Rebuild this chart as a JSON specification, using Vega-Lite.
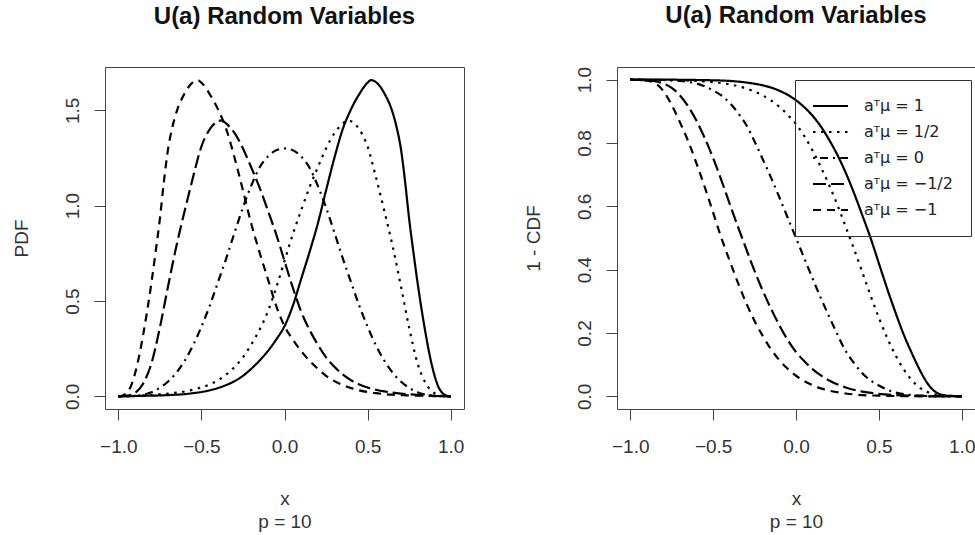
{
 "$schema": "https://vega.github.io/schema/vega-lite/v6.json",
 "background": "white",
 "padding": {"left": 11, "top": 3, "right": 0, "bottom": 0},
 "spacing": 153,
 "bounds": "flush",
 "resolve": {"scale": {"strokeDash": "independent"}, "legend": {"strokeDash": "independent"}},
 "config": {
  "font": "Liberation Sans",
  "view": {"stroke": "#444", "strokeWidth": 1},
  "axis": {"domain": false, "grid": false, "ticks": true, "tickSize": 11, "tickColor": "#444", "tickWidth": 1,
           "labelFont": "Liberation Sans", "labelFontSize": 19, "labelColor": "#333",
           "titleFont": "Liberation Sans", "titleFontSize": 19, "titleFontWeight": "normal", "titleColor": "#333"},
  "axisX": {"labelPadding": 17, "titlePadding": 33, "titleLineHeight": 23},
  "axisY": {"labelAngle": -90, "labelAlign": "center", "labelBaseline": "bottom", "labelPadding": 12, "titlePadding": 32},
  "title": {"fontSize": 24, "fontWeight": "bold", "font": "Liberation Sans", "color": "#111", "anchor": "middle", "frame": "group", "offset": 38},
  "line": {"strokeWidth": 2.2, "color": "black", "interpolate": "monotone"},
  "legend": {"orient": "none", "legendX": 178, "legendY": 13, "padding": 18, "strokeColor": "#333",
             "symbolType": "M-3,0H3", "symbolSize": 136, "symbolStrokeWidth": 2.2, "symbolStrokeColor": "black",
             "symbolFillColor": "transparent", "symbolOffset": 9.5, "labelOffset": 25.5, "rowPadding": 10,
             "labelFont": "DejaVu Sans", "labelFontSize": 16, "labelColor": "#222"}
 },
 "datasets": {
  "pdf": [
   {"m":"1","x":-1,"y":0},{"m":"1","x":-0.95,"y":0.001},{"m":"1","x":-0.9,"y":0.002},{"m":"1","x":-0.85,"y":0.003},{"m":"1","x":-0.8,"y":0.004},{"m":"1","x":-0.75,"y":0.005},{"m":"1","x":-0.7,"y":0.007},{"m":"1","x":-0.65,"y":0.009},{"m":"1","x":-0.6,"y":0.012},{"m":"1","x":-0.55,"y":0.017},{"m":"1","x":-0.5,"y":0.023},{"m":"1","x":-0.45,"y":0.032},{"m":"1","x":-0.4,"y":0.044},{"m":"1","x":-0.35,"y":0.06},{"m":"1","x":-0.3,"y":0.08},{"m":"1","x":-0.25,"y":0.108},{"m":"1","x":-0.2,"y":0.145},{"m":"1","x":-0.15,"y":0.188},{"m":"1","x":-0.1,"y":0.238},{"m":"1","x":-0.05,"y":0.298},{"m":"1","x":0,"y":0.368},{"m":"1","x":0.05,"y":0.475},{"m":"1","x":0.1,"y":0.615},{"m":"1","x":0.15,"y":0.755},{"m":"1","x":0.2,"y":0.905},{"m":"1","x":0.25,"y":1.08},{"m":"1","x":0.3,"y":1.25},{"m":"1","x":0.35,"y":1.4},{"m":"1","x":0.4,"y":1.505},{"m":"1","x":0.45,"y":1.585},{"m":"1","x":0.5,"y":1.645},{"m":"1","x":0.52,"y":1.658},{"m":"1","x":0.55,"y":1.648},{"m":"1","x":0.6,"y":1.59},{"m":"1","x":0.65,"y":1.49},{"m":"1","x":0.675,"y":1.41},{"m":"1","x":0.7,"y":1.3},{"m":"1","x":0.725,"y":1.13},{"m":"1","x":0.75,"y":0.93},{"m":"1","x":0.775,"y":0.76},{"m":"1","x":0.8,"y":0.6},{"m":"1","x":0.825,"y":0.455},{"m":"1","x":0.85,"y":0.325},{"m":"1","x":0.875,"y":0.21},{"m":"1","x":0.9,"y":0.118},{"m":"1","x":0.925,"y":0.052},{"m":"1","x":0.95,"y":0.018},{"m":"1","x":0.975,"y":0.004},{"m":"1","x":1,"y":0},
   {"m":"−1","x":1,"y":0},{"m":"−1","x":0.95,"y":0.001},{"m":"−1","x":0.9,"y":0.002},{"m":"−1","x":0.85,"y":0.003},{"m":"−1","x":0.8,"y":0.004},{"m":"−1","x":0.75,"y":0.005},{"m":"−1","x":0.7,"y":0.007},{"m":"−1","x":0.65,"y":0.009},{"m":"−1","x":0.6,"y":0.012},{"m":"−1","x":0.55,"y":0.017},{"m":"−1","x":0.5,"y":0.023},{"m":"−1","x":0.45,"y":0.032},{"m":"−1","x":0.4,"y":0.044},{"m":"−1","x":0.35,"y":0.06},{"m":"−1","x":0.3,"y":0.08},{"m":"−1","x":0.25,"y":0.108},{"m":"−1","x":0.2,"y":0.145},{"m":"−1","x":0.15,"y":0.188},{"m":"−1","x":0.1,"y":0.238},{"m":"−1","x":0.05,"y":0.298},{"m":"−1","x":0,"y":0.368},{"m":"−1","x":-0.05,"y":0.475},{"m":"−1","x":-0.1,"y":0.615},{"m":"−1","x":-0.15,"y":0.755},{"m":"−1","x":-0.2,"y":0.905},{"m":"−1","x":-0.25,"y":1.08},{"m":"−1","x":-0.3,"y":1.25},{"m":"−1","x":-0.35,"y":1.4},{"m":"−1","x":-0.4,"y":1.505},{"m":"−1","x":-0.45,"y":1.585},{"m":"−1","x":-0.5,"y":1.645},{"m":"−1","x":-0.52,"y":1.658},{"m":"−1","x":-0.55,"y":1.648},{"m":"−1","x":-0.6,"y":1.59},{"m":"−1","x":-0.65,"y":1.49},{"m":"−1","x":-0.675,"y":1.41},{"m":"−1","x":-0.7,"y":1.3},{"m":"−1","x":-0.725,"y":1.13},{"m":"−1","x":-0.75,"y":0.93},{"m":"−1","x":-0.775,"y":0.76},{"m":"−1","x":-0.8,"y":0.6},{"m":"−1","x":-0.825,"y":0.455},{"m":"−1","x":-0.85,"y":0.325},{"m":"−1","x":-0.875,"y":0.21},{"m":"−1","x":-0.9,"y":0.118},{"m":"−1","x":-0.925,"y":0.052},{"m":"−1","x":-0.95,"y":0.018},{"m":"−1","x":-0.975,"y":0.004},{"m":"−1","x":-1,"y":0},
   {"m":"1/2","x":-1,"y":0},{"m":"1/2","x":-0.95,"y":0.001},{"m":"1/2","x":-0.9,"y":0.003},{"m":"1/2","x":-0.85,"y":0.005},{"m":"1/2","x":-0.8,"y":0.008},{"m":"1/2","x":-0.75,"y":0.011},{"m":"1/2","x":-0.7,"y":0.015},{"m":"1/2","x":-0.65,"y":0.02},{"m":"1/2","x":-0.6,"y":0.026},{"m":"1/2","x":-0.55,"y":0.035},{"m":"1/2","x":-0.5,"y":0.047},{"m":"1/2","x":-0.45,"y":0.063},{"m":"1/2","x":-0.4,"y":0.085},{"m":"1/2","x":-0.35,"y":0.115},{"m":"1/2","x":-0.3,"y":0.155},{"m":"1/2","x":-0.25,"y":0.205},{"m":"1/2","x":-0.2,"y":0.272},{"m":"1/2","x":-0.15,"y":0.35},{"m":"1/2","x":-0.1,"y":0.445},{"m":"1/2","x":-0.05,"y":0.57},{"m":"1/2","x":0,"y":0.71},{"m":"1/2","x":0.05,"y":0.85},{"m":"1/2","x":0.1,"y":0.975},{"m":"1/2","x":0.15,"y":1.095},{"m":"1/2","x":0.2,"y":1.2},{"m":"1/2","x":0.25,"y":1.3},{"m":"1/2","x":0.3,"y":1.38},{"m":"1/2","x":0.35,"y":1.43},{"m":"1/2","x":0.38,"y":1.447},{"m":"1/2","x":0.4,"y":1.443},{"m":"1/2","x":0.45,"y":1.4},{"m":"1/2","x":0.5,"y":1.31},{"m":"1/2","x":0.55,"y":1.15},{"m":"1/2","x":0.6,"y":0.975},{"m":"1/2","x":0.65,"y":0.79},{"m":"1/2","x":0.7,"y":0.58},{"m":"1/2","x":0.75,"y":0.36},{"m":"1/2","x":0.8,"y":0.175},{"m":"1/2","x":0.85,"y":0.068},{"m":"1/2","x":0.9,"y":0.018},{"m":"1/2","x":0.95,"y":0.003},{"m":"1/2","x":1,"y":0},
   {"m":"−1/2","x":1,"y":0},{"m":"−1/2","x":0.95,"y":0.001},{"m":"−1/2","x":0.9,"y":0.003},{"m":"−1/2","x":0.85,"y":0.005},{"m":"−1/2","x":0.8,"y":0.008},{"m":"−1/2","x":0.75,"y":0.011},{"m":"−1/2","x":0.7,"y":0.015},{"m":"−1/2","x":0.65,"y":0.02},{"m":"−1/2","x":0.6,"y":0.026},{"m":"−1/2","x":0.55,"y":0.035},{"m":"−1/2","x":0.5,"y":0.047},{"m":"−1/2","x":0.45,"y":0.063},{"m":"−1/2","x":0.4,"y":0.085},{"m":"−1/2","x":0.35,"y":0.115},{"m":"−1/2","x":0.3,"y":0.155},{"m":"−1/2","x":0.25,"y":0.205},{"m":"−1/2","x":0.2,"y":0.272},{"m":"−1/2","x":0.15,"y":0.35},{"m":"−1/2","x":0.1,"y":0.445},{"m":"−1/2","x":0.05,"y":0.57},{"m":"−1/2","x":0,"y":0.71},{"m":"−1/2","x":-0.05,"y":0.85},{"m":"−1/2","x":-0.1,"y":0.975},{"m":"−1/2","x":-0.15,"y":1.095},{"m":"−1/2","x":-0.2,"y":1.2},{"m":"−1/2","x":-0.25,"y":1.3},{"m":"−1/2","x":-0.3,"y":1.38},{"m":"−1/2","x":-0.35,"y":1.43},{"m":"−1/2","x":-0.38,"y":1.447},{"m":"−1/2","x":-0.4,"y":1.443},{"m":"−1/2","x":-0.45,"y":1.4},{"m":"−1/2","x":-0.5,"y":1.31},{"m":"−1/2","x":-0.55,"y":1.15},{"m":"−1/2","x":-0.6,"y":0.975},{"m":"−1/2","x":-0.65,"y":0.79},{"m":"−1/2","x":-0.7,"y":0.58},{"m":"−1/2","x":-0.75,"y":0.36},{"m":"−1/2","x":-0.8,"y":0.175},{"m":"−1/2","x":-0.85,"y":0.068},{"m":"−1/2","x":-0.9,"y":0.018},{"m":"−1/2","x":-0.95,"y":0.003},{"m":"−1/2","x":-1,"y":0},
   {"m":"0","x":-1,"y":0},{"m":"0","x":-0.95,"y":0.001},{"m":"0","x":-0.9,"y":0.003},{"m":"0","x":-0.85,"y":0.009},{"m":"0","x":-0.8,"y":0.022},{"m":"0","x":-0.75,"y":0.045},{"m":"0","x":-0.7,"y":0.078},{"m":"0","x":-0.65,"y":0.125},{"m":"0","x":-0.6,"y":0.188},{"m":"0","x":-0.55,"y":0.268},{"m":"0","x":-0.5,"y":0.365},{"m":"0","x":-0.45,"y":0.475},{"m":"0","x":-0.4,"y":0.6},{"m":"0","x":-0.35,"y":0.725},{"m":"0","x":-0.3,"y":0.86},{"m":"0","x":-0.25,"y":0.99},{"m":"0","x":-0.2,"y":1.105},{"m":"0","x":-0.15,"y":1.2},{"m":"0","x":-0.1,"y":1.258},{"m":"0","x":-0.05,"y":1.29},{"m":"0","x":0,"y":1.3},{"m":"0","x":0.05,"y":1.29},{"m":"0","x":0.1,"y":1.258},{"m":"0","x":0.15,"y":1.2},{"m":"0","x":0.2,"y":1.105},{"m":"0","x":0.25,"y":0.99},{"m":"0","x":0.3,"y":0.86},{"m":"0","x":0.35,"y":0.725},{"m":"0","x":0.4,"y":0.6},{"m":"0","x":0.45,"y":0.475},{"m":"0","x":0.5,"y":0.365},{"m":"0","x":0.55,"y":0.268},{"m":"0","x":0.6,"y":0.188},{"m":"0","x":0.65,"y":0.125},{"m":"0","x":0.7,"y":0.078},{"m":"0","x":0.75,"y":0.045},{"m":"0","x":0.8,"y":0.022},{"m":"0","x":0.85,"y":0.009},{"m":"0","x":0.9,"y":0.003},{"m":"0","x":0.95,"y":0.001},{"m":"0","x":1,"y":0}
  ],
  "cdf": [
   {"m":"1","x":-1,"y":1},{"m":"1","x":-0.8,"y":1},{"m":"1","x":-0.6,"y":0.999},{"m":"1","x":-0.5,"y":0.998},{"m":"1","x":-0.4,"y":0.996},{"m":"1","x":-0.3,"y":0.991},{"m":"1","x":-0.2,"y":0.982},{"m":"1","x":-0.15,"y":0.975},{"m":"1","x":-0.1,"y":0.965},{"m":"1","x":-0.05,"y":0.952},{"m":"1","x":0,"y":0.935},{"m":"1","x":0.05,"y":0.913},{"m":"1","x":0.1,"y":0.886},{"m":"1","x":0.15,"y":0.852},{"m":"1","x":0.2,"y":0.81},{"m":"1","x":0.25,"y":0.762},{"m":"1","x":0.3,"y":0.706},{"m":"1","x":0.35,"y":0.642},{"m":"1","x":0.4,"y":0.572},{"m":"1","x":0.45,"y":0.5},{"m":"1","x":0.5,"y":0.42},{"m":"1","x":0.55,"y":0.34},{"m":"1","x":0.6,"y":0.265},{"m":"1","x":0.65,"y":0.195},{"m":"1","x":0.7,"y":0.135},{"m":"1","x":0.75,"y":0.08},{"m":"1","x":0.8,"y":0.036},{"m":"1","x":0.85,"y":0.011},{"m":"1","x":0.9,"y":0.003},{"m":"1","x":0.95,"y":0.001},{"m":"1","x":1,"y":0},
   {"m":"−1","x":-1,"y":1},{"m":"−1","x":-0.95,"y":0.999},{"m":"−1","x":-0.9,"y":0.997},{"m":"−1","x":-0.85,"y":0.989},{"m":"−1","x":-0.8,"y":0.964},{"m":"−1","x":-0.75,"y":0.92},{"m":"−1","x":-0.7,"y":0.865},{"m":"−1","x":-0.65,"y":0.805},{"m":"−1","x":-0.6,"y":0.735},{"m":"−1","x":-0.55,"y":0.66},{"m":"−1","x":-0.5,"y":0.58},{"m":"−1","x":-0.45,"y":0.5},{"m":"−1","x":-0.4,"y":0.428},{"m":"−1","x":-0.35,"y":0.358},{"m":"−1","x":-0.3,"y":0.294},{"m":"−1","x":-0.25,"y":0.238},{"m":"−1","x":-0.2,"y":0.19},{"m":"−1","x":-0.15,"y":0.148},{"m":"−1","x":-0.1,"y":0.114},{"m":"−1","x":-0.05,"y":0.087},{"m":"−1","x":0,"y":0.065},{"m":"−1","x":0.05,"y":0.048},{"m":"−1","x":0.1,"y":0.035},{"m":"−1","x":0.15,"y":0.025},{"m":"−1","x":0.2,"y":0.018},{"m":"−1","x":0.3,"y":0.009},{"m":"−1","x":0.4,"y":0.004},{"m":"−1","x":0.5,"y":0.002},{"m":"−1","x":0.6,"y":0.001},{"m":"−1","x":0.8,"y":0},{"m":"−1","x":1,"y":0},
   {"m":"1/2","x":-1,"y":1},{"m":"1/2","x":-0.8,"y":0.999},{"m":"1/2","x":-0.7,"y":0.998},{"m":"1/2","x":-0.6,"y":0.996},{"m":"1/2","x":-0.5,"y":0.992},{"m":"1/2","x":-0.4,"y":0.985},{"m":"1/2","x":-0.3,"y":0.972},{"m":"1/2","x":-0.2,"y":0.95},{"m":"1/2","x":-0.15,"y":0.934},{"m":"1/2","x":-0.1,"y":0.914},{"m":"1/2","x":-0.05,"y":0.889},{"m":"1/2","x":0,"y":0.86},{"m":"1/2","x":0.05,"y":0.822},{"m":"1/2","x":0.1,"y":0.776},{"m":"1/2","x":0.15,"y":0.724},{"m":"1/2","x":0.2,"y":0.667},{"m":"1/2","x":0.25,"y":0.604},{"m":"1/2","x":0.3,"y":0.535},{"m":"1/2","x":0.35,"y":0.465},{"m":"1/2","x":0.4,"y":0.392},{"m":"1/2","x":0.45,"y":0.318},{"m":"1/2","x":0.5,"y":0.248},{"m":"1/2","x":0.55,"y":0.185},{"m":"1/2","x":0.6,"y":0.13},{"m":"1/2","x":0.65,"y":0.085},{"m":"1/2","x":0.7,"y":0.05},{"m":"1/2","x":0.75,"y":0.026},{"m":"1/2","x":0.8,"y":0.012},{"m":"1/2","x":0.85,"y":0.005},{"m":"1/2","x":0.9,"y":0.002},{"m":"1/2","x":0.95,"y":0.001},{"m":"1/2","x":1,"y":0},
   {"m":"−1/2","x":-1,"y":1},{"m":"−1/2","x":-0.95,"y":0.999},{"m":"−1/2","x":-0.9,"y":0.998},{"m":"−1/2","x":-0.85,"y":0.995},{"m":"−1/2","x":-0.8,"y":0.988},{"m":"−1/2","x":-0.75,"y":0.974},{"m":"−1/2","x":-0.7,"y":0.95},{"m":"−1/2","x":-0.65,"y":0.915},{"m":"−1/2","x":-0.6,"y":0.87},{"m":"−1/2","x":-0.55,"y":0.815},{"m":"−1/2","x":-0.5,"y":0.752},{"m":"−1/2","x":-0.45,"y":0.682},{"m":"−1/2","x":-0.4,"y":0.608},{"m":"−1/2","x":-0.35,"y":0.535},{"m":"−1/2","x":-0.3,"y":0.465},{"m":"−1/2","x":-0.25,"y":0.396},{"m":"−1/2","x":-0.2,"y":0.333},{"m":"−1/2","x":-0.15,"y":0.276},{"m":"−1/2","x":-0.1,"y":0.224},{"m":"−1/2","x":-0.05,"y":0.178},{"m":"−1/2","x":0,"y":0.14},{"m":"−1/2","x":0.05,"y":0.111},{"m":"−1/2","x":0.1,"y":0.086},{"m":"−1/2","x":0.15,"y":0.066},{"m":"−1/2","x":0.2,"y":0.05},{"m":"−1/2","x":0.3,"y":0.028},{"m":"−1/2","x":0.4,"y":0.015},{"m":"−1/2","x":0.5,"y":0.008},{"m":"−1/2","x":0.6,"y":0.004},{"m":"−1/2","x":0.7,"y":0.002},{"m":"−1/2","x":0.8,"y":0.001},{"m":"−1/2","x":1,"y":0},
   {"m":"0","x":-1,"y":1},{"m":"0","x":-0.9,"y":1},{"m":"0","x":-0.8,"y":0.999},{"m":"0","x":-0.75,"y":0.998},{"m":"0","x":-0.7,"y":0.996},{"m":"0","x":-0.65,"y":0.993},{"m":"0","x":-0.6,"y":0.988},{"m":"0","x":-0.55,"y":0.979},{"m":"0","x":-0.5,"y":0.966},{"m":"0","x":-0.45,"y":0.95},{"m":"0","x":-0.4,"y":0.927},{"m":"0","x":-0.35,"y":0.895},{"m":"0","x":-0.3,"y":0.857},{"m":"0","x":-0.25,"y":0.805},{"m":"0","x":-0.2,"y":0.748},{"m":"0","x":-0.15,"y":0.69},{"m":"0","x":-0.1,"y":0.628},{"m":"0","x":-0.05,"y":0.564},{"m":"0","x":0,"y":0.5},{"m":"0","x":0.05,"y":0.436},{"m":"0","x":0.1,"y":0.372},{"m":"0","x":0.15,"y":0.31},{"m":"0","x":0.2,"y":0.252},{"m":"0","x":0.25,"y":0.195},{"m":"0","x":0.3,"y":0.143},{"m":"0","x":0.35,"y":0.105},{"m":"0","x":0.4,"y":0.073},{"m":"0","x":0.45,"y":0.05},{"m":"0","x":0.5,"y":0.034},{"m":"0","x":0.55,"y":0.021},{"m":"0","x":0.6,"y":0.012},{"m":"0","x":0.65,"y":0.007},{"m":"0","x":0.7,"y":0.004},{"m":"0","x":0.75,"y":0.002},{"m":"0","x":0.8,"y":0.001},{"m":"0","x":0.9,"y":0},{"m":"0","x":1,"y":0}
  ]
 },
 "hconcat": [
  {
   "width": 359, "height": 342,
   "title": "U(a) Random Variables",
   "data": {"name": "pdf"},
   "mark": {"type": "line"},
   "encoding": {
    "x": {"field": "x", "type": "quantitative", "scale": {"domain": [-1.08, 1.08], "nice": false, "zero": false},
          "axis": {"values": [-1, -0.5, 0, 0.5, 1], "format": ".1f", "title": ["x", "p = 10"]}},
    "y": {"field": "y", "type": "quantitative", "scale": {"domain": [-0.066, 1.727], "nice": false, "zero": false},
          "axis": {"values": [0, 0.5, 1, 1.5], "format": ".1f", "title": "PDF"}},
    "strokeDash": {"field": "m", "type": "nominal",
                   "scale": {"domain": ["1", "1/2", "0", "−1/2", "−1"], "range": [[1, 0], [2.5, 5.5], [2, 5, 8, 5], [13, 5], [8, 6]]},
                   "legend": null}
   }
  },
  {
   "width": 358, "height": 342,
   "title": "U(a) Random Variables",
   "data": {"name": "cdf"},
   "mark": {"type": "line"},
   "encoding": {
    "x": {"field": "x", "type": "quantitative", "scale": {"domain": [-1.08, 1.08], "nice": false, "zero": false},
          "axis": {"values": [-1, -0.5, 0, 0.5, 1], "format": ".1f", "title": ["x", "p = 10"]}},
    "y": {"field": "y", "type": "quantitative", "scale": {"domain": [-0.04, 1.04], "nice": false, "zero": false},
          "axis": {"values": [0, 0.2, 0.4, 0.6, 0.8, 1], "format": ".1f", "title": "1 - CDF"}},
    "strokeDash": {"field": "m", "type": "nominal",
                   "scale": {"domain": ["1", "1/2", "0", "−1/2", "−1"], "range": [[1, 0], [2.5, 5.5], [2, 5, 8, 5], [13, 5], [8, 6]]},
                   "legend": {"title": null, "labelExpr": "'aᵀμ = ' + datum.label"}}
   }
  }
 ]
}
